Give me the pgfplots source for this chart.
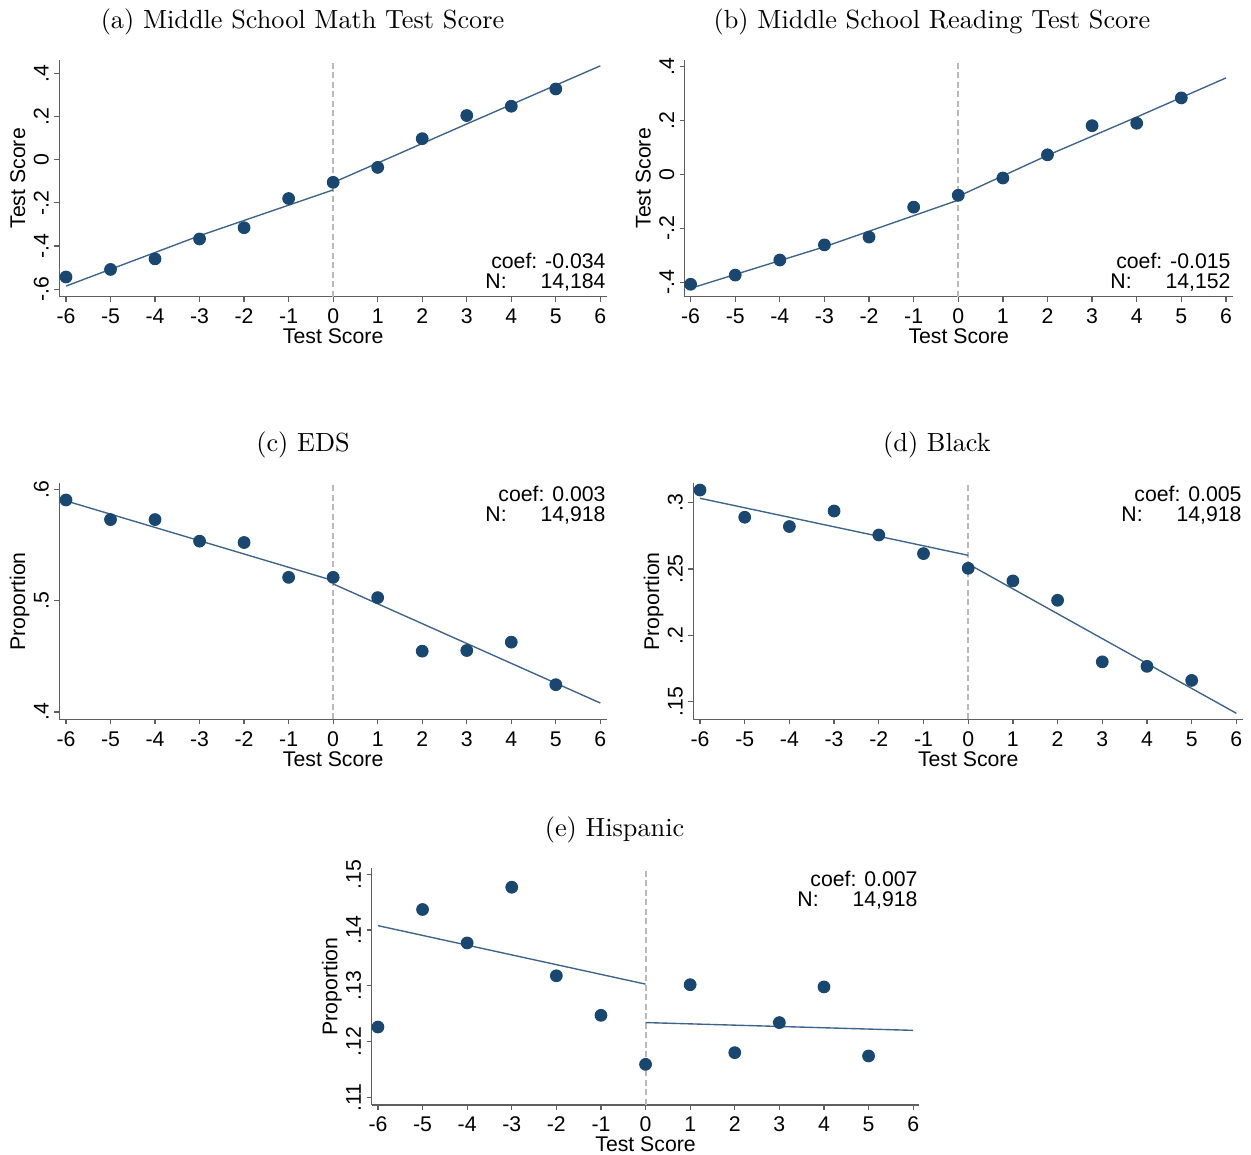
\documentclass[border=0pt]{standalone}
\usepackage{fontspec}
\usepackage{pgfplots}
\pgfplotsset{compat=1.18}
\newfontfamily\arial{Liberation Sans}
\definecolor{navy}{RGB}{26,71,111}
\definecolor{fitc}{RGB}{62,100,140}
\definecolor{axc}{RGB}{95,95,95}
\definecolor{refc}{RGB}{185,185,185}
\newcommand\axfont{\arial\fontsize{8.5}{8}\selectfont}
\newcommand\titfont{\fontsize{10.5}{12}\selectfont}
\pgfplotsset{
  stbase/.style={
    scale only axis,
    clip=false,
    axis lines=left,
    axis line style={-, draw=axc, line width=0.5pt},
    tick style={draw=axc, line width=0.5pt},
    tick align=outside,
    major tick length=2pt,
    xmin=-6.15, xmax=6.15,
    xtick={-6,-5,-4,-3,-2,-1,0,1,2,3,4,5,6},
    xticklabels={-6,-5,-4,-3,-2,-1,0,1,2,3,4,5,6},
    ticklabel style={font=\axfont},
    label style={font=\axfont},
    xticklabel style={anchor=base, inner sep=0pt, yshift=-8.7pt},
    yticklabel style={rotate=90, anchor=base, inner sep=0pt, yshift=2.3pt},
    xlabel={Test Score},
    xlabel style={at={(axis description cs:0.5,0)}, anchor=base, inner sep=0pt, yshift=-18.8pt},
    ylabel style={at={(axis description cs:0,0.5)}, anchor=base, inner sep=0pt, yshift=13.7pt},
  },
  pts/.style={only marks, mark=*, mark size=2.35pt, mark options={fill=navy, draw=navy}},
  fit/.style={fitc, line width=0.55pt, no marks},
  cut/.style={refc, line width=0.8pt, dash pattern=on 2.4pt off 1.4pt, no marks},
}
\begin{document}
\begin{tikzpicture}
\useasboundingbox (0,0) rectangle (500.4pt,462pt);

% (a)
\begin{axis}[stbase, at={(23.72pt,343.32pt)}, anchor=south west,
  width=219.08pt, height=94.68pt,
  ymin=-0.634, ymax=0.461,
  ytick={-0.6,-0.4,-0.2,0,0.2,0.4}, yticklabels={-.6,-.4,-.2,0,.2,.4},
  ylabel={Test Score}]
\addplot[cut] coordinates {(0,-0.634) (0,0.461)};
\addplot[fit] coordinates {(-6,-0.585) (-3,-0.352) (0,-0.140)};
\addplot[fit] coordinates {(0,-0.106) (3,0.165) (6,0.434)};
\addplot[pts] coordinates {(-6,-0.543) (-5,-0.508) (-4,-0.459) (-3,-0.367) (-2,-0.315) (-1,-0.180) (0,-0.105) (1,-0.036) (2,0.097) (3,0.204) (4,0.247) (5,0.327)};
\end{axis}

% (b)
\begin{axis}[stbase, at={(273.92pt,343.32pt)}, anchor=south west,
  width=219.12pt, height=94.68pt,
  xmin=-6.13, xmax=6.15,
  ymin=-0.453, ymax=0.4247,
  ytick={-0.4,-0.2,0,0.2,0.4}, yticklabels={-.4,-.2,0,.2,.4},
  ylabel={Test Score}]
\addplot[cut] coordinates {(0,-0.453) (0,0.4247)};
\addplot[fit] coordinates {(-6,-0.422) (-3,-0.268) (0,-0.095)};
\addplot[fit] coordinates {(0,-0.081) (2,0.071) (4,0.213) (6,0.358)};
\addplot[pts] coordinates {(-6,-0.407) (-5,-0.373) (-4,-0.317) (-3,-0.261) (-2,-0.232) (-1,-0.121) (0,-0.077) (1,-0.013) (2,0.073) (3,0.181) (4,0.190) (5,0.284)};
\end{axis}

% (c)
\begin{axis}[stbase, at={(23.72pt,174.28pt)}, anchor=south west,
  width=219.08pt, height=94.4pt,
  ymin=0.3934, ymax=0.6054,
  ytick={0.4,0.5,0.6}, yticklabels={.4,.5,.6},
  ylabel={Proportion}]
\addplot[cut] coordinates {(0,0.3934) (0,0.6054)};
\addplot[fit] coordinates {(-6,0.5896) (0,0.518)};
\addplot[fit] coordinates {(0,0.515) (6,0.408)};
\addplot[pts] coordinates {(-6,0.5904) (-5,0.5728) (-4,0.5728) (-3,0.5534) (-2,0.5522) (-1,0.5209) (0,0.5209) (1,0.5027) (2,0.4546) (3,0.4552) (4,0.4627) (5,0.4245)};
\end{axis}

% (d)
\begin{axis}[stbase, at={(277.32pt,174.28pt)}, anchor=south west,
  width=219.9pt, height=94.4pt,
  ymin=0.1367, ymax=0.3146,
  ytick={0.15,0.2,0.25,0.3}, yticklabels={.15,.2,.25,.3},
  ylabel={Proportion}]
\addplot[cut] coordinates {(0,0.1367) (0,0.3146)};
\addplot[fit] coordinates {(-6,0.3033) (0,0.2603)};
\addplot[fit] coordinates {(0,0.2538) (6,0.1412)};
\addplot[pts] coordinates {(-6,0.3095) (-5,0.289) (-4,0.282) (-3,0.2937) (-2,0.2756) (-1,0.2616) (0,0.2505) (1,0.241) (2,0.2264) (3,0.180) (4,0.1766) (5,0.166)};
\end{axis}

% (e)
\begin{axis}[stbase, at={(148.68pt,20pt)}, anchor=south west,
  width=219.08pt, height=94.68pt,
  xmin=-6.14, xmax=6.14,
  ymin=0.1086, ymax=0.1511,
  ytick={0.11,0.12,0.13,0.14,0.15}, yticklabels={.11,.12,.13,.14,.15},
  ylabel={Proportion}]
\addplot[cut] coordinates {(0,0.1086) (0,0.1511)};
\addplot[fit] coordinates {(-6,0.1408) (0,0.1303)};
\addplot[fit] coordinates {(0,0.1234) (6,0.1220)};
\addplot[pts] coordinates {(-6,0.1226) (-5,0.1437) (-4,0.1377) (-3,0.1477) (-2,0.1318) (-1,0.1247) (0,0.1159) (1,0.1302) (2,0.1180) (3,0.1234) (4,0.1298) (5,0.1174)};
\end{axis}

\begin{scope}[x=0.4pt, y=-0.4pt, shift={(0pt,462pt)}]
\node[anchor=base, font=\titfont, inner sep=0pt] at (302.5,28.3) {(a) Middle School Math Test Score};
\node[anchor=base, font=\titfont, inner sep=0pt] at (932,28.3) {(b) Middle School Reading Test Score};
\node[anchor=base, font=\titfont, inner sep=0pt] at (303,451.5) {(c) EDS};
\node[anchor=base, font=\titfont, inner sep=0pt] at (937,451.5) {(d) Black};
\node[anchor=base, font=\titfont, inner sep=0pt] at (614.5,836.5) {(e) Hispanic};

\begin{scope}[every node/.style={font=\axfont, inner sep=0pt}]
\node[anchor=base east] at (606,268.3) {coef: -0.034};
\node[anchor=base west] at (485,288.3) {N:};
\node[anchor=base east] at (606,288.3) {14,184};

\node[anchor=base east] at (1231,268.3) {coef: -0.015};
\node[anchor=base west] at (1110,288.3) {N:};
\node[anchor=base east] at (1231,288.3) {14,152};

\node[anchor=base east] at (606,502) {coef: 0.003};
\node[anchor=base west] at (485,522) {N:};
\node[anchor=base east] at (606,522) {14,918};

\node[anchor=base east] at (1242,502) {coef: 0.005};
\node[anchor=base west] at (1121,522) {N:};
\node[anchor=base east] at (1242,522) {14,918};

\node[anchor=base east] at (918,887) {coef: 0.007};
\node[anchor=base west] at (797,907) {N:};
\node[anchor=base east] at (918,907) {14,918};
\end{scope}
\end{scope}
\end{tikzpicture}
\end{document}
